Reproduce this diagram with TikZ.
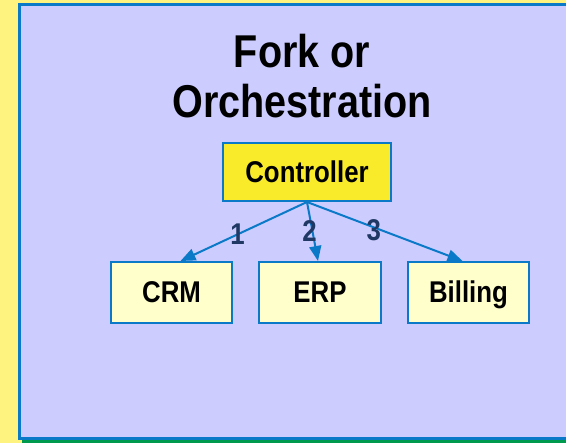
\documentclass[tikz,border=0pt]{standalone}
\usepackage{fontspec}
\setmainfont{Liberation Sans}[FakeStretch=0.86]
\usetikzlibrary{arrows.meta}
\definecolor{pagebg}{HTML}{FFF380}
\definecolor{panelbg}{HTML}{CCCCFF}
\definecolor{edgeblue}{HTML}{0A7AC8}
\definecolor{shadowgreen}{HTML}{009A4E}
\definecolor{ctrlfill}{HTML}{F9EB2A}
\definecolor{boxfill}{HTML}{FFFFCC}
\definecolor{numnavy}{HTML}{1F3864}
\begin{document}
\begin{tikzpicture}
		[x=1pt, y=-1pt,
		sysbox/.style={draw=edgeblue, line width=2pt, fill=boxfill, minimum height=61pt,
			text height=23pt, text depth=2pt, font=\fontsize{30}{32}\selectfont\bfseries},
		link/.style={draw=edgeblue, line width=2pt, -{Triangle[length=15pt,width=12pt]}},
		num/.style={text=numnavy, font=\fontsize{30}{32}\selectfont\bfseries, inner sep=0pt}]
		\useasboundingbox (0,0) rectangle (566,443);
		\fill[pagebg] (0,0) rectangle (566,443);
		\fill[shadowgreen] (22,439) rectangle (566,443);
		\filldraw[fill=panelbg, draw=edgeblue, line width=3pt] (19.5,4.5) rectangle (572,438.5);
		\node[anchor=base, align=center, font=\fontsize{46}{50}\selectfont\bfseries] (title) at (302,118) {Fork or\\Orchestration};
		\node[sysbox, fill=ctrlfill, minimum width=168pt, minimum height=58pt] (ctrl) at (307,172) {Controller};
		\node[sysbox, minimum width=121pt] (crm) at (171.5,292.5) {CRM};
		\node[sysbox, minimum width=122pt] (erp) at (320,292.5) {ERP};
		\node[sysbox, minimum width=121pt] (billing) at (468.5,292.5) {Billing};
		\draw[link] (ctrl.south) -- node[num, pos=0.55] {1} ([xshift=9pt]crm.north);
		\draw[link] (ctrl.south) -- node[num, pos=0.5, xshift=-3pt] {2} ([xshift=-2pt]erp.north);
		\draw[link] (ctrl.south) -- node[num, pos=0.43, yshift=-3pt] {3} ([xshift=-6pt]billing.north);
	\end{tikzpicture}
\end{document}
